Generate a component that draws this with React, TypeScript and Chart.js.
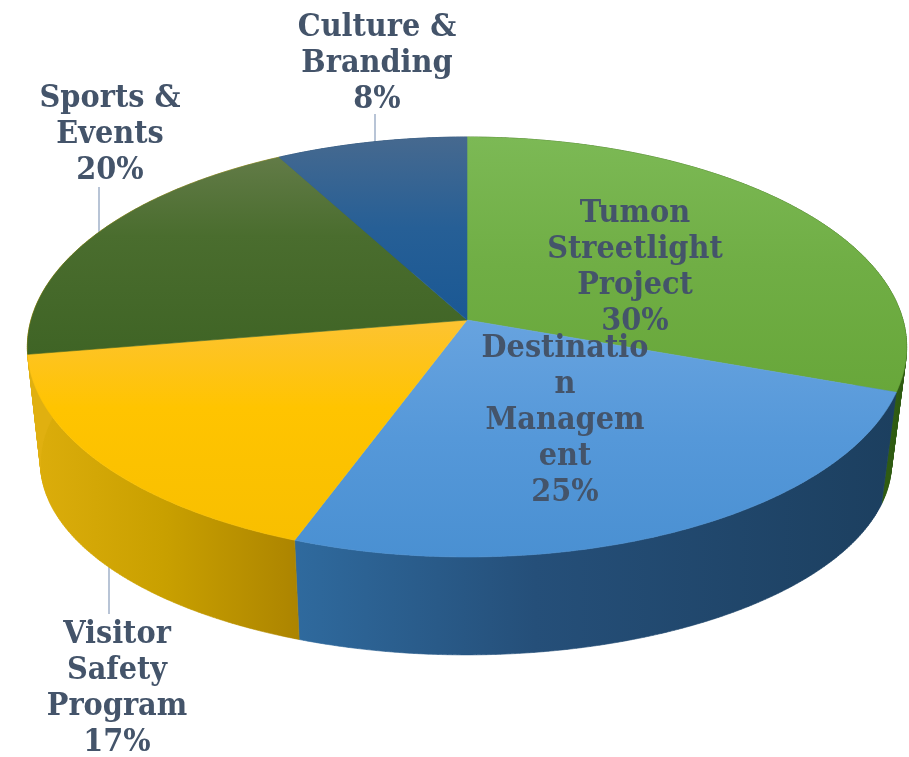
import React, { useEffect, useRef } from "react";
import { Chart, registerables } from "chart.js";

Chart.register(...registerables);

const categories = ["Tumon Streetlight Project", "Destination Management", "Visitor Safety Program", "Sports & Events", "Culture & Branding"];
const shares = [30, 25, 17, 20, 8];
const wrappedLabels = [
  ["Tumon", "Streetlight", "Project"],
  ["Destinatio", "n", "Managem", "ent"],
  ["Visitor", "Safety", "Program"],
  ["Sports &", "Events"],
  ["Culture &", "Branding"],
];
const baseColors = ["#70AD47", "#5B9BD5", "#FFC000", "#43682B", "#255E91"];

// Layout and styling only
const labelAnchors = [
  { x: 635, y: 222 },
  { x: 565, y: 357 },
  { x: 117, y: 643 },
  { x: 110, y: 107 },
  { x: 377, y: 36 },
];
const leaderSegments = [
  null,
  null,
  { x: 109, y1: 558, y2: 614 },
  { x: 99, y1: 187, y2: 236 },
  { x: 375, y1: 114, y2: 144 },
];
const topShades = [
  [[0, "#7CB955"], [0.5, "#70AE45"], [1, "#68A73A"]],
  [[0, "#67A3DF"], [0.5, "#5598D9"], [1, "#4A90D2"]],
  [[0, "#FDC332"], [0.4, "#FFC400"], [1, "#F8BF00"]],
  [[0, "#627B47"], [0.4, "#4A6D2E"], [1, "#3F6425"]],
  [[0, "#46698F"], [0.5, "#265F96"], [1, "#1A5894"]],
];
const wallShades = [
  [[0, "#2F5B12"], [1, "#2F5B12"]],
  [[0, "#2F6A9E"], [0.4, "#254F79"], [1, "#1C3F5F"]],
  [[0, "#DDAE0C"], [0.5, "#C9A000"], [1, "#AC8400"]],
  [[0, "#E0B010"], [1, "#E0B010"]],
  [[0, "#1A3F66"], [1, "#1A3F66"]],
];
const topDisc = { cx: 467, cy: 320, rx: 436, ry: 206.5, k: 0.1286 };
const lowDisc = { cx: 466, cy: 438, rx: 422, ry: 189, k: 0.1286 };
const angleDrift = 0.021;
const textColor = "#44546A";
const textFont = "bold 32px 'DejaVu Serif'";
const textSqueeze = 0.9;
const lineGap = 36;

type Disc = typeof topDisc;

function project(d: Disc, angle: number) {
  const a = angle + angleDrift * (1 - Math.cos(angle + Math.PI / 2));
  const u = Math.cos(a);
  const v = Math.sin(a);
  const w = 1 / (1 - d.k * v);
  return { x: d.cx + d.rx * u * w, y: d.cy + d.ry * v * w };
}

function sample(d: Disc, a0: number, a1: number) {
  const n = Math.max(4, Math.ceil(Math.abs(a1 - a0) / 0.01));
  const pts = [];
  for (let i = 0; i <= n; i++) pts.push(project(d, a0 + ((a1 - a0) * i) / n));
  return pts;
}

function makeGradient(ctx: CanvasRenderingContext2D, pts: { x: number; y: number }[], stops: any[], axis: "x" | "y") {
  const vals = pts.map((p) => p[axis]);
  const lo = Math.min(...vals);
  const hi = Math.max(...vals);
  const g = axis === "x" ? ctx.createLinearGradient(lo, 0, hi, 0) : ctx.createLinearGradient(0, lo, 0, hi);
  stops.forEach(([o, c]) => g.addColorStop(o, c));
  return g;
}

const tiltedPie = {
  id: "tiltedPie",
  beforeDatasetsDraw(chart: any) {
    const ctx: CanvasRenderingContext2D = chart.ctx;
    const arcs = chart.getDatasetMeta(0).data;
    ctx.save();

    leaderSegments.forEach((s) => {
      if (!s) return;
      ctx.beginPath();
      ctx.moveTo(s.x, s.y1);
      ctx.lineTo(s.x, s.y2);
      ctx.strokeStyle = "#B8C4D6";
      ctx.lineWidth = 2;
      ctx.stroke();
    });

    // walls as ruled strips between rims; the top face covers whatever is at the back
    arcs.forEach((arc: any, i: number) => {
      const top = sample(topDisc, arc.startAngle, arc.endAngle);
      const low = sample(lowDisc, arc.startAngle, arc.endAngle);
      const fill = makeGradient(ctx, top.concat(low), wallShades[i], "x");
      ctx.beginPath();
      for (let j = 0; j < top.length - 1; j++) {
        ctx.moveTo(top[j].x, top[j].y);
        ctx.lineTo(top[j + 1].x, top[j + 1].y);
        ctx.lineTo(low[j + 1].x, low[j + 1].y);
        ctx.lineTo(low[j].x, low[j].y);
        ctx.closePath();
      }
      ctx.fillStyle = fill;
      ctx.strokeStyle = fill;
      ctx.lineWidth = 0.6;
      ctx.fill("nonzero");
      ctx.stroke();
    });

    arcs.forEach((arc: any, i: number) => {
      const pts = [{ x: topDisc.cx, y: topDisc.cy }].concat(sample(topDisc, arc.startAngle, arc.endAngle));
      const fill = makeGradient(ctx, pts, topShades[i], "y");
      ctx.beginPath();
      pts.forEach((p, j) => (j ? ctx.lineTo(p.x, p.y) : ctx.moveTo(p.x, p.y)));
      ctx.closePath();
      ctx.fillStyle = fill;
      ctx.strokeStyle = fill;
      ctx.lineWidth = 0.6;
      ctx.fill();
      ctx.stroke();
    });

    // text
    ctx.font = textFont;
    ctx.fillStyle = textColor;
    ctx.textAlign = "center";
    ctx.textBaseline = "alphabetic";
    const values = chart.data.datasets[0].data;
    wrappedLabels.forEach((lines, i) => {
      lines.concat(`${values[i]}%`).forEach((t, j) => {
        ctx.fillText(t, labelAnchors[i].x, labelAnchors[i].y + j * lineGap, ctx.measureText(t).width * textSqueeze);
      });
    });
    ctx.restore();
    return false;
  },
};

export default function App() {
  const ref = useRef<HTMLCanvasElement | null>(null);
  useEffect(() => {
    document.body.style.margin = "0";
    document.body.style.background = "#fff";
    const chart = new Chart(ref.current as HTMLCanvasElement, {
      type: "pie",
      data: {
        labels: categories,
        datasets: [{ data: shares, backgroundColor: baseColors, borderWidth: 0 }],
      },
      options: {
        responsive: false,
        animation: false,
        plugins: { legend: { display: false }, tooltip: { enabled: false }, title: { display: false } },
      },
      plugins: [tiltedPie],
    } as any);
    return () => chart.destroy();
  }, []);
  return <canvas ref={ref} width={909} height={757} style={{ display: "block" }} />;
}
